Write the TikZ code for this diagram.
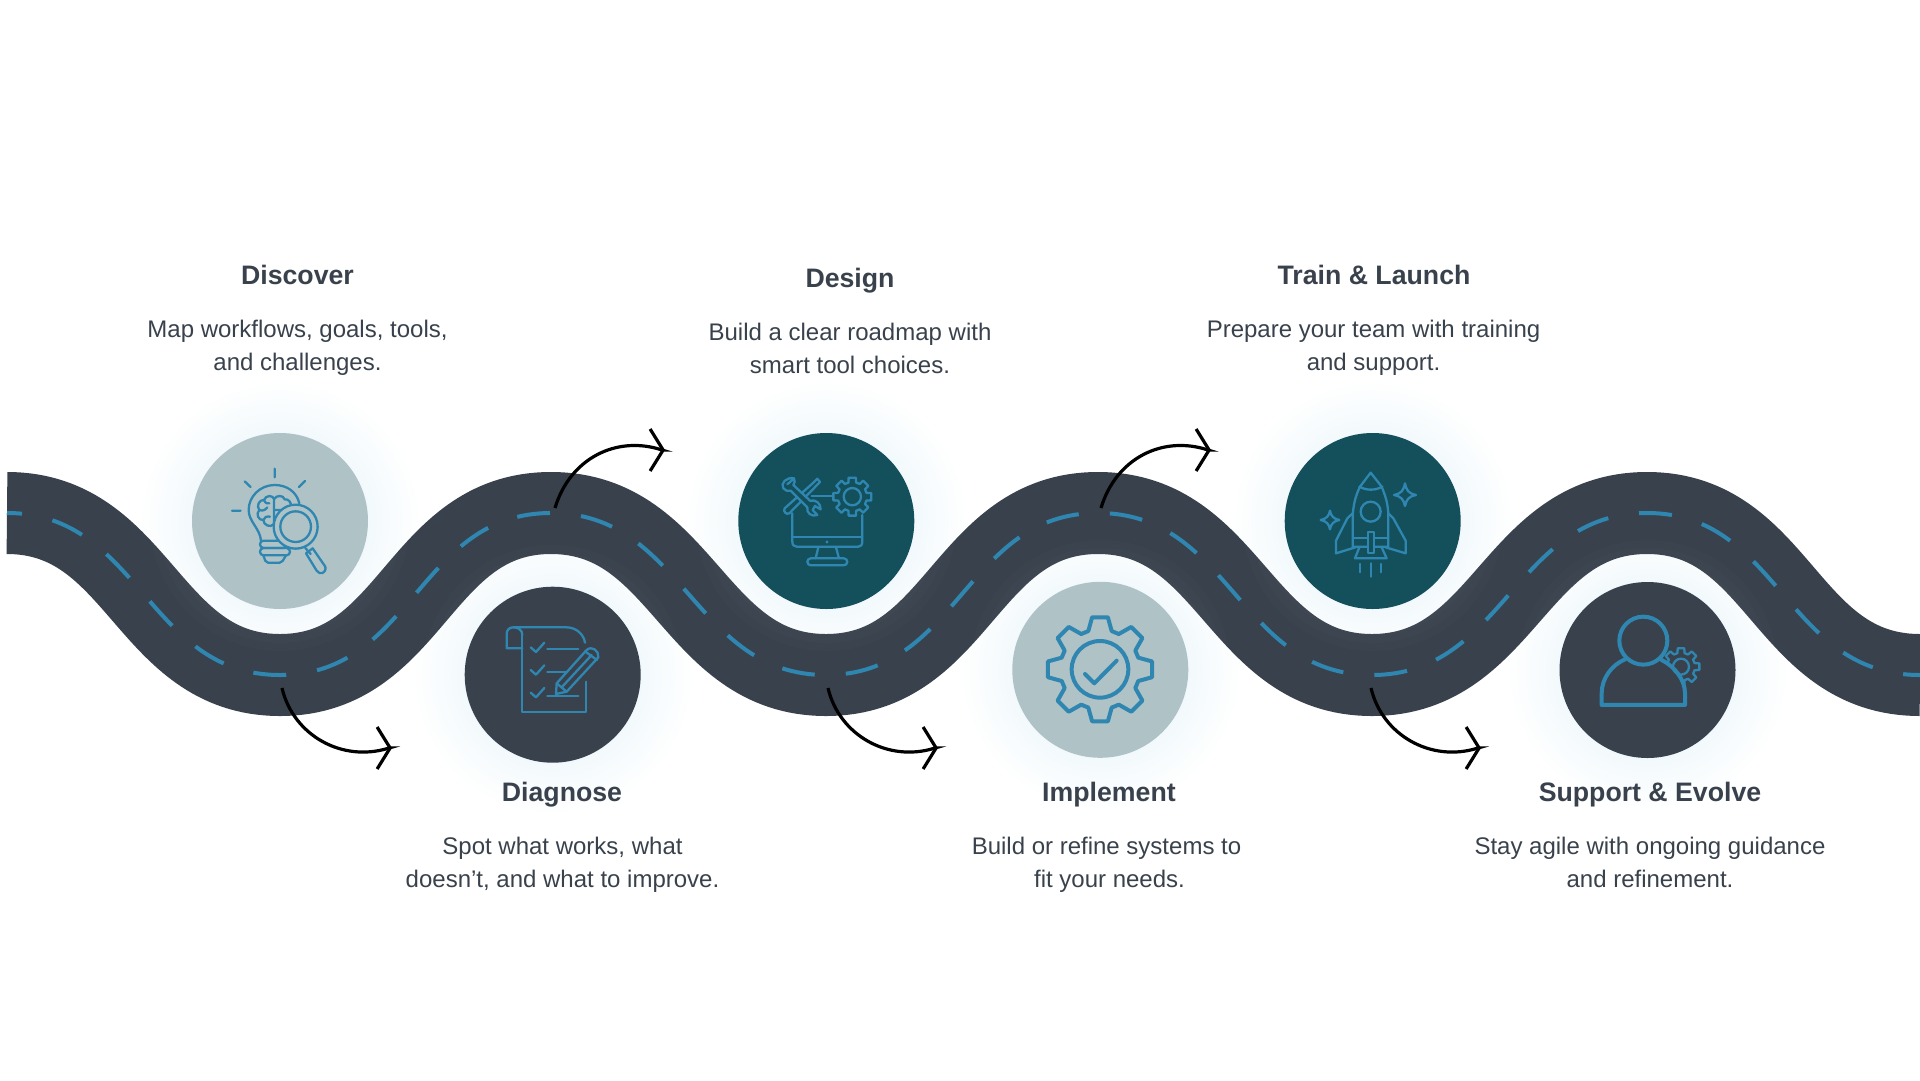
\documentclass[tikz,border=0pt]{standalone}
\usepackage{fontspec}
\setmainfont{Liberation Sans}
\usetikzlibrary{arrows.meta,calc}
\definecolor{roadc}{HTML}{39424C}
\definecolor{dashc}{HTML}{2F86B0}
\definecolor{paleC}{HTML}{AFC3C7}
\definecolor{tealC}{HTML}{14505B}
\definecolor{haloC}{HTML}{F2F9FC}
\definecolor{textc}{HTML}{39424C}
\pgfdeclareradialshading{haloshade}{\pgfpoint{0bp}{0bp}}{color(0bp)=(haloC);color(15.5bp)=(haloC);color(20bp)=(haloC!50!white);color(25bp)=(white);color(50bp)=(white)}
\newcommand{\halo}[2]{\shade[shading=haloshade] (#1,#2) circle[radius=142];}
\newcommand{\halotop}[2]{%
  \foreach \r in {130,122,...,90} {\fill[white,opacity=.012] (#1,#2) circle[radius=\r];}}
\newcommand{\gearshape}[8]{% cx cy Ro Ri teeth wo wi style
  \draw[#8] ([shift={(#1,#2)}]-#6:#3)
   \foreach \k [evaluate=\k as \ga using (\k-1)*360/#5, evaluate=\k as \gb using \k*360/#5] in {1,...,#5} { -- ([shift={(#1,#2)}]\ga-#6:#3) -- ([shift={(#1,#2)}]\ga+#6:#3) -- ([shift={(#1,#2)}]\ga+#7:#4) -- ([shift={(#1,#2)}]\gb-#7:#4) } -- cycle;}
\tikzset{
  disc/.style={circle,minimum size=176pt,inner sep=0pt,draw=none},
  title/.style={font=\fontsize{26.7}{33}\selectfont\bfseries,text=textc,anchor=base,inner sep=0pt},
  body/.style={font=\fontsize{24}{33}\selectfont,text=textc,align=center,inner sep=0pt,execute at begin node=\strut,execute at end node=\strut},
  flow/.style={black,line width=3.2pt,-{Straight Barb[length=13pt,width=42pt,line width=3.2pt]}},
  ic/.style={draw=dashc,line width=2.3pt,line join=round,line cap=round},
  icon/.style={x=.3333pt,y=-.3333pt}
}
\begin{document}
\begin{tikzpicture}[x=1pt,y=-1pt]
\useasboundingbox (0,0) rectangle (1920,1080);
\fill[white] (0,0) rectangle (1920,1080);
\halo{280}{521}\halo{552.7}{674.7}\halo{826.3}{521}\halo{1100.3}{669.8}\halo{1372.7}{521}\halo{1647.5}{670}
% road
\def\roadpath{(7,513) .. controls (140,513) and (147,675) .. (280,675)
 .. controls (413,675) and (418,513) .. (551,513)
 .. controls (684,513) and (693,675) .. (826,675)
 .. controls (959,675) and (965,513) .. (1098,513)
 .. controls (1231,513) and (1239,675) .. (1372,675)
 .. controls (1505,675) and (1514,513) .. (1647,513)
 .. controls (1780,513) and (1785,675) .. (1920,675)}
\draw[roadc,line width=82pt] \roadpath;
\draw[dashc,line width=4pt,dash pattern=on 33pt off 31.2pt,dash phase=18pt] \roadpath;
\halotop{280}{521}\halotop{552.7}{674.7}\halotop{826.3}{521}\halotop{1100.3}{669.8}\halotop{1372.7}{521}\halotop{1647.5}{670}
% discs
\node[disc,fill=paleC] (d1) at (280,521) {};
\node[disc,fill=roadc] (d2) at (552.7,674.7) {};
\node[disc,fill=tealC] (d3) at (826.3,521) {};
\node[disc,fill=paleC] (d4) at (1100.3,669.8) {};
\node[disc,fill=tealC] (d5) at (1372.7,521) {};
\node[disc,fill=roadc] (d6) at (1647.5,670) {};
% arrows
\coordinate (b1s) at (282,688); \coordinate (b1e) at (392,748);
\coordinate (b2s) at (828,688); \coordinate (b2e) at (938,748);
\coordinate (b3s) at (1371,688); \coordinate (b3e) at (1481,748);
\coordinate (u1s) at (555,508); \coordinate (u1e) at (665,450);
\coordinate (u2s) at (1101,508); \coordinate (u2e) at (1211,450);
\foreach \s/\e in {b1s/b1e,b2s/b2e,b3s/b3e}
  \draw[flow] (\s) .. controls +(11,47) and +(-47,15) .. ($(\e)+(-3,0)$) -- (\e);
\foreach \s/\e in {u1s/u1e,u2s/u2e}
  \draw[flow] (\s) .. controls +(15,-50) and +(-45,-15) .. ($(\e)+(-3,0)$) -- (\e);
% texts
\node[title] (t1) at (297.5,284.2) {Discover};
\node[body] (x1) at (297.5,350.7) {Map workflows, goals, tools,\\and challenges.};
\node[title] (t2) at (562,801.3) {Diagnose};
\node[body] (x2) at (562.5,867.5) {Spot what works, what\\doesn’t, and what to improve.};
\node[title] (t3) at (850,287.3) {Design};
\node[body] (x3) at (850,353.2) {Build a clear roadmap with\\smart tool choices.};
\node[title] (t4) at (1109,801.3) {Implement};
\node[body] (x4) at (1109.5,867.5) {Build or refine systems to\hspace*{6pt}\\fit your needs.};
\node[title] (t5) at (1374,284.2) {Train \& Launch};
\node[body] (x5) at (1373.5,350.7) {Prepare your team with training\\and support.};
\node[title] (t6) at (1650,801.3) {Support \& Evolve};
\node[body] (x6) at (1650,867.5) {Stay agile with ongoing guidance\\and refinement.};
% icon 1: bulb
\begin{scope}[shift={(180,420)},icon]
 \draw[ic] (284,146)--(284,172) (194,184)--(212,201) (375,183)--(357,201) (156,272)--(182,272);
 \draw[ic] (358,250) .. controls (350,215) and (320,195) .. (284,195) .. controls (240,195) and (206,230) .. (206,270) .. controls (206,305) and (240,325) .. (243,362);
 \draw[ic,rounded corners=3.5pt] (240,362) rectangle (320,384);
 \draw[ic,rounded corners=3.5pt] (240,384) rectangle (330,406);
 \draw[ic,rounded corners=2pt] (250,406) -- (258,428) -- (305,428) -- (318,406);
 \draw[ic] (282,236) .. controls (278,226) and (258,224) .. (252,240) .. controls (238,238) and (228,258) .. (238,270) .. controls (226,282) and (236,302) .. (250,300) .. controls (250,315) and (272,325) .. (282,312) -- cycle;
 \draw[ic] (284,236) .. controls (288,226) and (310,224) .. (314,238) .. controls (325,236) and (335,248) .. (332,258);
 \draw[ic] (252,240) .. controls (256,250) and (262,252) .. (268,250) (238,270) .. controls (248,274) and (256,270) .. (262,262) (250,300) .. controls (252,292) and (260,288) .. (270,290) (282,270) -- (302,270);
 \fill[paleC] (347,320) circle[radius=66];
 \draw[ic] (347,320) circle[radius=66] (347,320) circle[radius=46];
 \draw[ic] (376,384) -- (392,402);
 \draw[ic] (378,400) -- (398,385) -- (436,440) .. controls (440,462) and (418,465) .. (410,452) -- cycle;
\end{scope}
% icon 2: checklist
\begin{scope}[shift={(460,580)},icon]
 \draw[ic] (187,165) .. controls (187,150) and (175,142) .. (160,142) .. controls (148,142) and (140,150) .. (140,162) -- (140,205) -- (187,205);
 \draw[ic] (160,142) -- (320,142) .. controls (350,142) and (372,165) .. (375,188);
 \draw[ic] (187,165) -- (187,395) -- (378,395) -- (378,305);
 \foreach \dy in {0,68,136} \draw[ic] (212,202+\dy) -- (228,216+\dy) -- (253,188+\dy);
 \draw[ic] (262,208)--(355,208) (262,277)--(322,277) (262,347)--(355,347);
 \draw[ic] (288,342) -- (290,310) -- (380,210) .. controls (395,196) and (418,212) .. (415,232) -- (320,335) -- cycle;
 \draw[ic] (375,214) -- (411,240) (305,322) -- (395,225) (290,310) -- (320,335);
\end{scope}
% icon 3: monitor + tools
\begin{scope}[shift={(730,420)},icon]
 \draw[ic] (187,280) -- (187,365) .. controls (187,375) and (192,380) .. (200,380) -- (385,380) .. controls (392,380) and (397,375) .. (397,365) -- (397,285);
 \draw[ic] (187,352) -- (397,352);
 \fill[dashc] (291,366) circle[radius=5];
 \draw[ic] (265,382) -- (257,415) (318,382) -- (327,415);
 \draw[ic,rounded corners=3.5pt] (232,415) rectangle (352,436);
 \draw[ic] (245,228) -- (310,228);
 \gearshape{367}{230}{58}{44}{8}{11}{15}{ic}
 \draw[ic] (367,230) circle[radius=26];
 % screwdriver
 \draw[ic] (262,176) -- (270,186) -- (178,280) .. controls (170,285) and (158,275) .. (164,265) -- (248,190) -- cycle;
 % wrench
 \fill[tealC] (178,212) -- (192,198) -- (248,252) -- (235,268) -- cycle;
 \draw[ic] (192,175) .. controls (170,170) and (150,190) .. (160,205) .. controls (165,212) and (175,215) .. (182,212) -- (232,262) .. controls (228,278) and (245,292) .. (262,285) -- (248,270) -- (255,258) -- (272,268) .. controls (272,250) and (258,238) .. (240,242) -- (190,195) .. controls (195,190) and (195,182) .. (192,175) -- (178,188) -- (172,192);
\end{scope}
% icon 4: gear + check
\begin{scope}[shift={(1000,570)},icon]
 \gearshape{300}{298}{158}{120}{8}{8.6}{17}{ic,line width=4pt}
 \draw[ic,line width=4pt] (300,298) circle[radius=85];
 \draw[ic,line width=4pt] (255,312) -- (283,340) -- (350,272);
\end{scope}
% icon 5: rocket
\begin{scope}[shift={(1270,420)},icon]
 \draw[ic] (248,380) -- (248,290) .. controls (250,250) and (258,225) .. (270,200) -- (302,158) -- (335,200) .. controls (345,225) and (355,250) .. (355,290) -- (355,380) -- cycle;
 \draw[ic] (268,200) .. controls (290,212) and (315,212) .. (337,200);
 \draw[ic] (302,275) circle[radius=30];
 \draw[ic] (248,280) -- (232,295) -- (198,362) -- (198,400) -- (256,382);
 \draw[ic] (355,280) -- (370,295) -- (407,362) -- (407,400) -- (347,382);
 \draw[ic] (248,355) -- (355,355);
 \draw[ic] (268,382) -- (255,415) -- (350,415) -- (335,382);
 \draw[ic,fill=tealC] (293,335) rectangle (312,398);
 \draw[ic] (271,432)--(271,457) (302,430)--(302,470) (333,432)--(333,457);
 \draw[ic] (405,190) .. controls (410,212) and (415,220) .. (438,225) .. controls (415,230) and (410,238) .. (405,258) .. controls (400,238) and (395,230) .. (372,225) .. controls (395,220) and (400,212) .. cycle;
 \draw[ic] (180,272) .. controls (183,288) and (190,296) .. (208,300) .. controls (190,304) and (183,312) .. (180,328) .. controls (177,312) and (170,304) .. (152,300) .. controls (170,296) and (177,288) .. cycle;
\end{scope}
% icon 6: person + gear
\begin{scope}[shift={(1550,570)},icon]
 \gearshape{393}{290}{56}{42}{8}{10}{15}{ic}
 \draw[ic,line width=4pt,fill=roadc] (225,268) .. controls (185,285) and (155,325) .. (155,370) -- (155,405) -- (405,405) -- (405,370) .. controls (405,330) and (375,290) .. (335,270);
 \draw[ic,line width=4pt,fill=roadc] (280,212) circle[radius=72];
 \draw[ic] (393,290) circle[radius=24];
\end{scope}
\end{tikzpicture}
\end{document}
